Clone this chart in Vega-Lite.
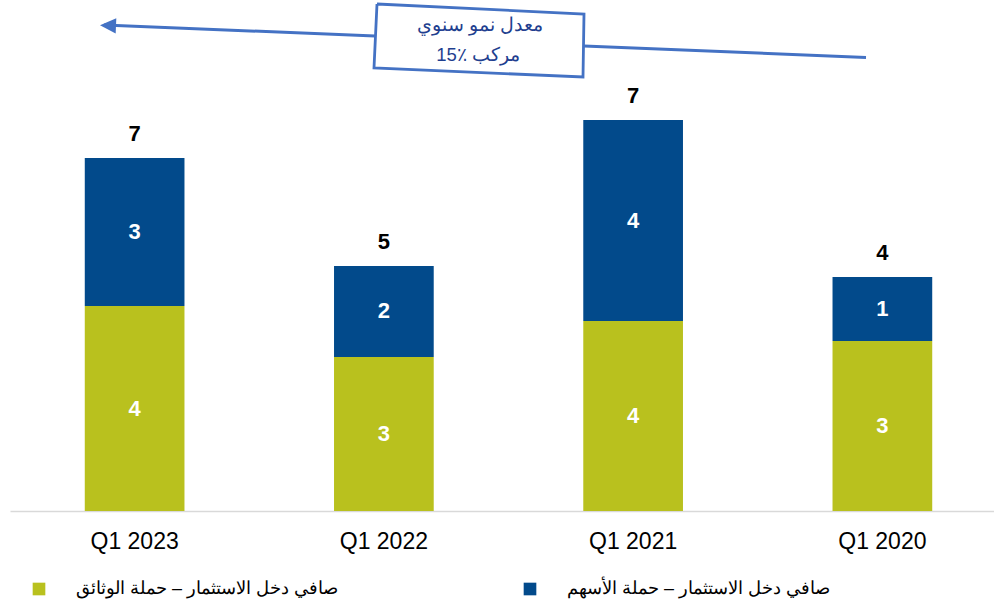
{
  "$schema": "https://vega.github.io/schema/vega-lite/v6.json",
  "width": 984,
  "height": 511,
  "autosize": {"type": "none"},
  "padding": {"left": 10, "top": 0, "right": 0, "bottom": 96},
  "background": "white",
  "config": {"view": {"stroke": null}},
  "datasets": {
    "bars": [
      {"quarter": "Q1 2023", "series": "صافي دخل الاستثمار – حملة الوثائق", "value": 3.851},
      {"quarter": "Q1 2023", "series": "صافي دخل الاستثمار – حملة الأسهم", "value": 2.780},
      {"quarter": "Q1 2022", "series": "صافي دخل الاستثمار – حملة الوثائق", "value": 2.893},
      {"quarter": "Q1 2022", "series": "صافي دخل الاستثمار – حملة الأسهم", "value": 1.710},
      {"quarter": "Q1 2021", "series": "صافي دخل الاستثمار – حملة الوثائق", "value": 3.569},
      {"quarter": "Q1 2021", "series": "صافي دخل الاستثمار – حملة الأسهم", "value": 3.776},
      {"quarter": "Q1 2020", "series": "صافي دخل الاستثمار – حملة الوثائق", "value": 3.194},
      {"quarter": "Q1 2020", "series": "صافي دخل الاستثمار – حملة الأسهم", "value": 1.202}
    ],
    "box": [
      {"i": 0, "bx": 1.4724, "by": 9.525},
      {"i": 1, "bx": 2.3029, "by": 9.337},
      {"i": 2, "bx": 2.2989, "by": 8.153},
      {"i": 3, "bx": 1.4604, "by": 8.323},
      {"i": 4, "bx": 1.4724, "by": 9.525}
    ],
    "arrow": [
      {"ax": 0.377, "ay": 9.130, "ax2": 1.4644, "ay2": 8.924},
      {"ax": 2.3029, "ay": 8.736, "ax2": 3.4343, "ay2": 8.520}
    ],
    "head": [{"hx": 0.3932, "hy": 9.121}],
    "note": [
      {"tx": 1.8857, "ty": 9.130, "label": "معدل نمو سنوي"},
      {"tx": 1.8776, "ty": 8.567, "label": "15٪ مركب"}
    ]
  },
  "layer": [
    {
      "data": {"name": "bars"},
      "mark": {"type": "bar"},
      "encoding": {
        "x": {
          "field": "quarter", "type": "nominal",
          "scale": {"domain": ["Q1 2023", "Q1 2022", "Q1 2021", "Q1 2020"], "range": [0, 997], "paddingInner": 0.6, "paddingOuter": 0.3},
          "axis": {"title": null, "ticks": false, "labelAngle": 0, "labelFont": "Liberation Sans", "labelFontSize": 23, "labelColor": "#000000", "labelPadding": 19, "domainColor": "#D9D9D9", "domainWidth": 1.5}
        },
        "y": {"field": "value", "type": "quantitative", "stack": "zero", "scale": {"domain": [0, 9.6], "nice": false, "zero": true}, "axis": null},
        "color": {
          "field": "series", "type": "nominal",
          "scale": {"domain": ["صافي دخل الاستثمار – حملة الوثائق", "صافي دخل الاستثمار – حملة الأسهم"], "range": ["#B9C11E", "#024A8B"]},
          "legend": {"title": null, "orient": "none", "direction": "horizontal", "legendX": 20, "legendY": 580, "symbolType": "square", "symbolSize": 160, "symbolStrokeWidth": 0, "labelFontSize": 18, "labelColor": "#000000", "labelOffset": 28, "columnPadding": 182, "labelLimit": 500, "padding": 0}
        },
        "order": {"field": "series", "sort": "descending"}
      }
    },
    {
      "data": {"name": "bars"},
      "transform": [
        {"stack": "value", "groupby": ["quarter"], "sort": [{"field": "series", "order": "descending"}], "as": ["v0", "v1"]},
        {"fold": ["v0", "v1"], "as": ["edge", "pos"]},
        {"aggregate": [{"op": "mean", "field": "pos", "as": "mid"}], "groupby": ["quarter", "series", "value"]}
      ],
      "mark": {"type": "text", "font": "Liberation Sans", "fontSize": 22, "fontWeight": "bold", "color": "white", "baseline": "middle"},
      "encoding": {
        "x": {"field": "quarter", "type": "nominal", "scale": {"domain": ["Q1 2023", "Q1 2022", "Q1 2021", "Q1 2020"], "range": [0, 997], "paddingInner": 0.6, "paddingOuter": 0.3}, "axis": null},
        "y": {"field": "mid", "type": "quantitative"},
        "text": {"field": "value", "type": "quantitative", "format": ".0f"}
      }
    },
    {
      "data": {"name": "bars"},
      "transform": [
        {"aggregate": [{"op": "sum", "field": "value", "as": "total"}], "groupby": ["quarter"]}
      ],
      "mark": {"type": "text", "font": "Liberation Sans", "fontSize": 22, "fontWeight": "bold", "color": "#000000", "baseline": "alphabetic", "dy": -17},
      "encoding": {
        "x": {"field": "quarter", "type": "nominal", "scale": {"domain": ["Q1 2023", "Q1 2022", "Q1 2021", "Q1 2020"], "range": [0, 997], "paddingInner": 0.6, "paddingOuter": 0.3}, "axis": null},
        "y": {"field": "total", "type": "quantitative"},
        "text": {"field": "total", "type": "quantitative", "format": ".0f"}
      }
    },
    {
      "data": {"name": "arrow"},
      "mark": {"type": "rule", "color": "#4472C4", "strokeWidth": 3},
      "encoding": {
        "x": {"field": "ax", "type": "quantitative", "scale": {"domain": [0, 4], "range": [0, 997], "nice": false, "zero": false}, "axis": null},
        "x2": {"field": "ax2"},
        "y": {"field": "ay", "type": "quantitative"},
        "y2": {"field": "ay2"}
      }
    },
    {
      "data": {"name": "box"},
      "mark": {"type": "line", "color": "#4472C4", "strokeWidth": 2.8},
      "encoding": {
        "x": {"field": "bx", "type": "quantitative", "scale": {"domain": [0, 4], "range": [0, 997], "nice": false, "zero": false}, "axis": null},
        "y": {"field": "by", "type": "quantitative"},
        "order": {"field": "i", "type": "quantitative"}
      }
    },
    {
      "data": {"name": "head"},
      "mark": {"type": "point", "filled": true, "color": "#4472C4", "opacity": 1, "shape": "M-1,0L1,-0.95L1,0.95Z", "size": 256, "angle": 2.4, "strokeWidth": 0},
      "encoding": {
        "x": {"field": "hx", "type": "quantitative", "scale": {"domain": [0, 4], "range": [0, 997], "nice": false, "zero": false}, "axis": null},
        "y": {"field": "hy", "type": "quantitative"}
      }
    },
    {
      "data": {"name": "note"},
      "mark": {"type": "text", "fontSize": 18.5, "color": "#1F3F8F", "baseline": "middle", "align": "center"},
      "encoding": {
        "x": {"field": "tx", "type": "quantitative", "scale": {"domain": [0, 4], "range": [0, 997], "nice": false, "zero": false}, "axis": null},
        "y": {"field": "ty", "type": "quantitative"},
        "text": {"field": "label", "type": "nominal"}
      }
    }
  ],
  "resolve": {"scale": {"x": "independent"}}
}
